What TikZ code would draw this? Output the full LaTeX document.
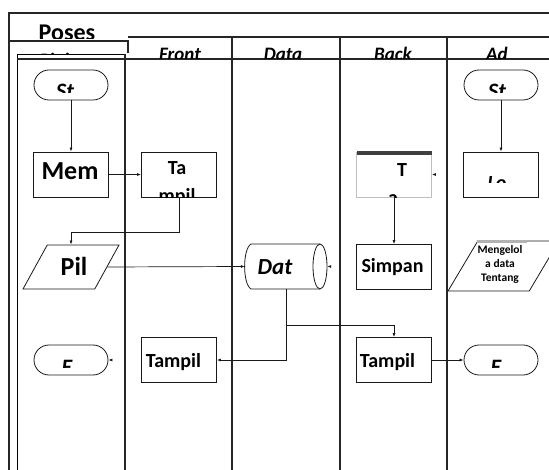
\documentclass[tikz,border=0pt]{standalone}
\usepackage{fontspec}
\setmainfont{Carlito}
\usetikzlibrary{shapes.geometric,arrows.meta}
\tikzset{
  lane/.style={line width=1.4pt,draw=black!85},
  flow/.style={draw=black!90,line width=0.8pt,inner sep=0pt,fill=white},
  kotak/.style={flow,rectangle,minimum width=75pt,minimum height=45pt},
  terminal/.style={flow,rectangle,rounded corners=15pt,minimum width=74pt,minimum height=30pt},
  jajar/.style={flow,trapezium,trapezium stretches=true,inner sep=3pt},
  teks/.style={inner sep=0pt,anchor=base,font=\bfseries},
  panah/.style={-{Latex[length=4pt,width=3pt]},line width=0.7pt,draw=black!90},
}
\begin{document}
\begin{tikzpicture}[x=1pt,y=-1pt]
\newcommand{\ukuran}[1]{\fontsize{#1}{#1}\selectfont}
\useasboundingbox (0,0) rectangle (549,470);
% lajur
\draw[lane] (549,13) -- (9,13) -- (9,470);
\draw[lane] (128,37) -- (549,37);
\draw[lane,line width=1.8pt] (9,41) -- (128,41) -- (128,53);
\draw[line width=0.8pt] (17,470) -- (17,54) -- (125,54);
\draw[lane] (17,59) -- (549,59);
\draw[lane] (125,54) -- (125,470);
\foreach \x in {232,340,447}
  \draw[lane] (\x,37) -- (\x,470);
% judul
\begin{scope}
\clip (9,13) rectangle (128,39);
\node[teks,font=\bfseries\ukuran{24}] (judul) at (67,41) {Poses};
\end{scope}
\begin{scope}
\clip (17,45) rectangle (125,55);
\node[teks,font=\bfseries\itshape\ukuran{19}] (hPinjam) at (67,66.5) {Pinjam};
\end{scope}
\begin{scope}
\clip (128,38) rectangle (549,58.5);
\node[teks,font=\bfseries\itshape\ukuran{19}] (hFront) at (180,61) {Front};
\node[teks,font=\bfseries\itshape\ukuran{19}] (hData) at (283,61) {Data};
\node[teks,font=\bfseries\itshape\ukuran{19}] (hBack) at (393,61) {Back};
\node[teks,font=\bfseries\itshape\ukuran{19}] (hAd) at (497,61) {Ad};
\end{scope}
% simbol
\node[terminal] (mulai) at (71,85) {};
\node[terminal] (mulaiAd) at (501,85) {};
\node[kotak] (mem) at (71,174.5) {};
\node[kotak] (tampilA) at (179,174.5) {};
\node[kotak,draw=black!25] (tambah) at (394,174.5) {};
\fill[black!75] (356.5,151.5) rectangle (431.5,155);
\node[kotak] (login) at (501,174.5) {};
\node[jajar,trapezium left angle=63,trapezium right angle=117,minimum width=96pt,minimum height=44pt] (pil) at (71,267) {};
\node[inner sep=0pt,minimum width=82pt,minimum height=45pt] (dat) at (286,266.5) {};
\draw[black!90,line width=0.8pt] (251,244) -- (320,244) (251,289) -- (320,289)
  (251,244) .. controls (242.5,249) and (242.5,284) .. (251,289);
\draw[black!90,line width=0.8pt] (320,266.5) ellipse[x radius=7,y radius=22.5];
\node[kotak] (simpan) at (394,267) {};
\node[jajar,trapezium left angle=60,trapezium right angle=120,minimum width=111pt,minimum height=50pt] (kelola) at (503.5,266) {};
\fill[black!30] (477,240) rectangle (527,243.5);
\node[kotak] (tampilB) at (179,360) {};
\node[kotak] (tampilC) at (394,360) {};
\node[terminal] (selesai) at (71,360) {};
\node[terminal] (selesaiAd) at (501,360) {};
% tulisan
\begin{scope}
\clip (34,70) rectangle (108,93);
\node[teks,font=\bfseries\itshape\ukuran{22}] (tMulai) at (65,99) {St};
\end{scope}
\begin{scope}
\clip (464,70) rectangle (538,93);
\node[teks,font=\bfseries\itshape\ukuran{22}] (tMulaiAd) at (497,99) {St};
\end{scope}
\node[teks,font=\bfseries\ukuran{26}] (tMem) at (70,180) {Mem};
\begin{scope}
\clip (tampilA.south west) rectangle (tampilA.north east);
\node[teks,font=\bfseries\ukuran{20}] (tTa) at (177,175) {Ta};
\node[teks,font=\bfseries\ukuran{20}] (tMpil) at (177,203) {mpil};
\end{scope}
\begin{scope}
\clip (tambah.south west) rectangle (tambah.north east);
\node[teks,font=\bfseries\ukuran{20}] (tT) at (402,177) {T};
\node[teks,font=\bfseries\ukuran{20}] (tA) at (393,205) {a};
\end{scope}
\begin{scope}
\clip (464,152) rectangle (538,183);
\node[teks,font=\bfseries\itshape\ukuran{20}] (tLo) at (497,190) {Lo};
\end{scope}
\node[teks,font=\bfseries\ukuran{26}] (tPil) at (74,276) {Pil};
\node[teks,font=\bfseries\itshape\ukuran{23}] (tDat) at (275,275) {Dat};
\node[teks,font=\bfseries\ukuran{20}] (tSimpan) at (392.5,273) {Simpan};
\node[font=\bfseries\ukuran{11.5},align=center,inner sep=0pt] (tKelola) at (500,264)
  {Mengelol\\[2.5pt]a data\\[2.5pt]Tentang};
\node[teks,font=\bfseries\ukuran{20}] (tTampilB) at (173.5,367) {Tampil};
\node[teks,font=\bfseries\ukuran{20}] (tTampilC) at (387.5,367) {Tampil};
\begin{scope}
\clip (34,345) rectangle (108,367.5);
\node[teks,font=\bfseries\itshape\ukuran{22}] (tSelesai) at (67,374) {E};
\end{scope}
\begin{scope}
\clip (464,345) rectangle (538,367.5);
\node[teks,font=\bfseries\itshape\ukuran{22}] (tSelesaiAd) at (496,374) {E};
\end{scope}
% alur
\draw[panah] (mulai) -- (mem);
\draw[panah] (mulaiAd) -- (login);
\draw[panah] (mem) -- (tampilA);
\draw[panah] (tampilA.south) -- ++(0,35) -| (pil.north);
\draw[panah] (pil.east) -- (dat.west);
\draw[panah] (tambah.south) -- (simpan.north);
\draw[panah] (dat.south) -- ++(0,36) -| (tampilC.north);
\draw[panah] (dat.south) |- (tampilB.east);
\draw[panah] (tampilC) -- (selesaiAd);
\draw[panah] ([xshift=3pt]dat.east) -- (dat.east);
\draw[panah] ([xshift=3pt]tambah.east) -- (tambah.east);
\draw[panah] ([xshift=3pt]selesai.east) -- (selesai.east);
\end{tikzpicture}
\end{document}
